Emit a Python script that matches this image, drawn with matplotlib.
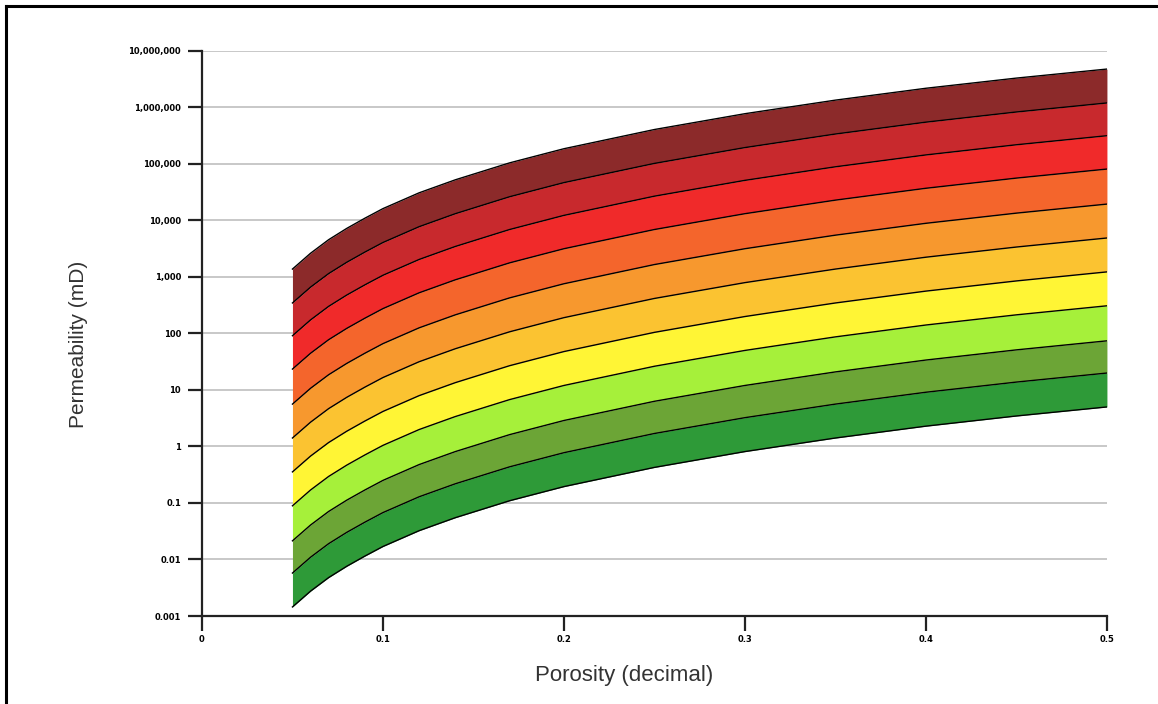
import numpy as np
import matplotlib
matplotlib.use("Agg")
import matplotlib.pyplot as plt
from matplotlib.lines import Line2D
from matplotlib.ticker import FixedLocator, FixedFormatter

porosity = [0.05, 0.06, 0.07, 0.08, 0.09, 0.10, 0.12, 0.14, 0.17,
            0.20, 0.25, 0.30, 0.35, 0.40, 0.45, 0.50]

# log10 permeability (mD) of each curve, top to bottom
curve_01 = [3.14, 3.42, 3.66, 3.86, 4.04, 4.21, 4.49, 4.72, 5.02, 5.27, 5.61, 5.89, 6.13, 6.34, 6.52, 6.68]
curve_02 = [2.54, 2.82, 3.06, 3.26, 3.44, 3.61, 3.89, 4.12, 4.42, 4.67, 5.01, 5.29, 5.53, 5.74, 5.92, 6.08]
curve_03 = [1.96, 2.24, 2.48, 2.68, 2.86, 3.03, 3.31, 3.54, 3.84, 4.09, 4.43, 4.71, 4.95, 5.16, 5.34, 5.50]
curve_04 = [1.37, 1.65, 1.89, 2.09, 2.27, 2.44, 2.72, 2.95, 3.25, 3.50, 3.84, 4.12, 4.36, 4.57, 4.75, 4.91]
curve_05 = [0.75, 1.03, 1.27, 1.47, 1.65, 1.82, 2.10, 2.33, 2.63, 2.88, 3.22, 3.50, 3.74, 3.95, 4.13, 4.29]
curve_06 = [0.15, 0.43, 0.67, 0.87, 1.05, 1.22, 1.50, 1.73, 2.03, 2.28, 2.62, 2.90, 3.14, 3.35, 3.53, 3.69]
curve_07 = [-0.45, -0.17, 0.07, 0.27, 0.45, 0.62, 0.90, 1.13, 1.43, 1.68, 2.02, 2.30, 2.54, 2.75, 2.93, 3.09]
curve_08 = [-1.05, -0.77, -0.53, -0.33, -0.15, 0.02, 0.30, 0.53, 0.83, 1.08, 1.42, 1.70, 1.94, 2.15, 2.33, 2.49]
curve_09 = [-1.67, -1.39, -1.15, -0.95, -0.77, -0.60, -0.32, -0.09, 0.21, 0.46, 0.80, 1.08, 1.32, 1.53, 1.71, 1.87]
curve_10 = [-2.24, -1.96, -1.72, -1.52, -1.34, -1.17, -0.89, -0.66, -0.36, -0.11, 0.23, 0.51, 0.75, 0.96, 1.14, 1.30]
curve_11 = [-2.84, -2.56, -2.32, -2.12, -1.94, -1.77, -1.49, -1.26, -0.96, -0.71, -0.37, -0.09, 0.15, 0.36, 0.54, 0.70]

curves = [curve_01, curve_02, curve_03, curve_04, curve_05, curve_06,
          curve_07, curve_08, curve_09, curve_10, curve_11]

# band colours, top to bottom
band_colors = ["#8c2a2a", "#c8292d", "#f02a2a", "#f4652c", "#f7982e",
               "#fbc331", "#fff535", "#a6f03a", "#6ca536", "#2e9a38"]

y_ticks = [1e-3, 1e-2, 1e-1, 1, 10, 100, 1e3, 1e4, 1e5, 1e6, 1e7]
y_labels = ["0.001", "0.01", "0.1", "1", "10", "100", "1,000", "10,000",
            "100,000", "1,000,000", "10,000,000"]
x_ticks = [0, 0.1, 0.2, 0.3, 0.4, 0.5]
x_labels = ["0", "0.1", "0.2", "0.3", "0.4", "0.5"]

fig = plt.figure(figsize=(11.58, 7.04), dpi=100)
ax = fig.add_axes([0.1744, 0.125, 0.7815, 0.8026])

phi = np.array(porosity)
for i, col in enumerate(band_colors):
    upper = 10 ** np.array(curves[i])
    lower = 10 ** np.array(curves[i + 1])
    ax.fill_between(phi, lower, upper, color=col, lw=0, zorder=2)

for c in curves:
    ax.plot(phi, 10 ** np.array(c), color="black", lw=1.0, zorder=3)

ax.set_yscale("log")
ax.set_xlim(0, 0.5)
ax.set_ylim(1e-3, 1e7)

ax.yaxis.set_major_locator(FixedLocator(y_ticks))
ax.yaxis.set_major_formatter(FixedFormatter(y_labels))
ax.yaxis.set_minor_locator(FixedLocator([]))
ax.set_xticks(x_ticks)
ax.set_xticklabels(x_labels)

for y in y_ticks:
    ax.axhline(y, color="#c4c4c4", lw=1.3, zorder=1)

for s in ["top", "right"]:
    ax.spines[s].set_visible(False)
for s in ["left", "bottom"]:
    ax.spines[s].set_linewidth(1.6)
    ax.spines[s].set_color("#222222")

ax.tick_params(axis="y", length=10, width=1.6, pad=5, color="#222222")
ax.tick_params(axis="x", length=11, width=1.6, pad=3, color="#222222")
for lab in ax.get_xticklabels() + ax.get_yticklabels():
    lab.set_fontsize(6)
    lab.set_fontweight("bold")
    lab.set_family("DejaVu Sans")

ax.set_xlabel("Porosity (decimal)", fontsize=16, family="Liberation Sans",
              color="#333333")
ax.set_ylabel("Permeability (mD)", fontsize=15, family="Liberation Sans",
              color="#333333")
ax.xaxis.set_label_coords(0.466, -0.087)
ax.yaxis.set_label_coords(-0.126, 0.481)

# frame around the picture (left and top only)
fig.add_artist(Line2D([5.5 / 1158, 5.5 / 1158], [0, 1 - 5.5 / 704],
                      transform=fig.transFigure, color="black", lw=2.2))
fig.add_artist(Line2D([5.5 / 1158, 1], [1 - 5.5 / 704, 1 - 5.5 / 704],
                      transform=fig.transFigure, color="black", lw=2.2))

fig.savefig("out.png", dpi=100)
